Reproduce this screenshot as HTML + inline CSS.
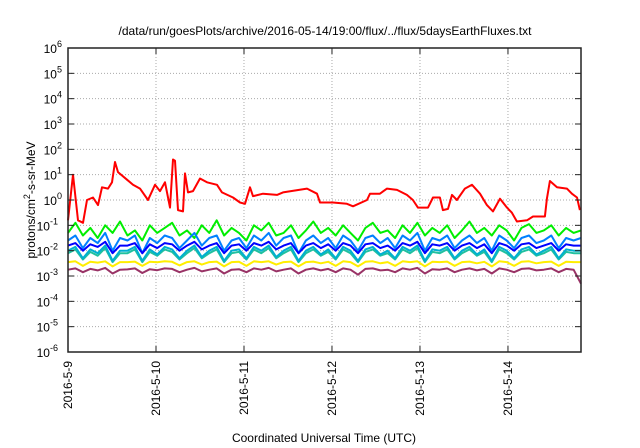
<!DOCTYPE html>
<html><head><meta charset="utf-8"><style>
body{margin:0;background:#fff;}
svg{display:block;font-family:"Liberation Sans",sans-serif;}
</style></head><body>
<svg id="chart" width="640" height="448" viewBox="0 0 640 448" xmlns="http://www.w3.org/2000/svg">
<text x="325" y="35" font-size="12" text-anchor="middle">/data/run/goesPlots/archive/2016-05-14/19:00/flux/../flux/5daysEarthFluxes.txt</text>
<text transform="translate(35,200) rotate(-90)" font-size="12" text-anchor="middle">protons/cm<tspan dy="-5" font-size="9">2</tspan><tspan dy="5">-s-sr-MeV</tspan></text>
<text x="324" y="442" font-size="12" text-anchor="middle">Coordinated Universal Time (UTC)</text>
<g id="grid"></g><g id="series"></g><g id="axes"></g>
</svg>
<script>
const dayLabels=["2016-5-9","2016-5-10","2016-5-11","2016-5-12","2016-5-13","2016-5-14"];
const decades=[-6,-5,-4,-3,-2,-1,0,1,2,3,4,5,6];
const redDays=[0,0.057,0.114,0.17,0.216,0.284,0.341,0.386,0.455,0.5,0.534,0.568,0.67,0.739,0.818,0.909,0.989,1.045,1.102,1.159,1.193,1.216,1.25,1.307,1.33,1.364,1.42,1.5,1.58,1.693,1.75,1.875,1.955,2.011,2.068,2.102,2.216,2.375,2.443,2.716,2.83,2.864,3.011,3.17,3.239,3.398,3.432,3.545,3.625,3.739,3.852,3.92,3.977,4.091,4.148,4.227,4.261,4.318,4.364,4.42,4.511,4.591,4.682,4.761,4.83,4.909,4.989,5.045,5.102,5.216,5.284,5.42,5.443,5.477,5.557,5.67,5.727,5.784,5.818];
const redLog10=[-0.8,1.0,-0.8,-0.9,0,0.1,-0.2,0.5,0.45,0.7,1.5,1.1,0.8,0.6,0.45,0,0.6,0.35,0.7,-0.3,1.6,1.55,-0.4,-0.45,1.05,0.3,0.35,0.85,0.7,0.6,0.3,0.1,-0.1,-0.15,0.5,0.15,0.25,0.2,0.3,0.45,0.25,-0.1,-0.1,-0.15,-0.25,0,0.25,0.25,0.45,0.4,0.2,0,-0.3,-0.3,0.1,0.1,-0.4,-0.35,0.2,0,0.45,0.6,0.25,-0.2,-0.45,0.05,-0.3,-0.5,-0.85,-0.8,-0.65,-0.65,0.05,0.75,0.5,0.45,0.25,0.1,-0.4];
const greenLog10=[-1.3,-0.9,-1.4,-1.1,-1.5,-1.0,-1.3,-0.85,-1.4,-1.2,-1.6,-1.0,-1.3,-1.1,-0.9,-1.4,-1.2,-1.5,-1.0,-1.3,-0.8,-1.4,-1.1,-1.3,-1.6,-1.0,-1.2,-0.9,-1.4,-1.3,-1.0,-1.5,-1.2,-0.85,-1.3,-1.1,-1.4,-1.0,-1.3,-1.6,-1.1,-0.9,-1.3,-1.2,-1.5,-1.0,-1.3,-0.9,-1.4,-1.1,-1.3,-1.0,-1.5,-1.2,-0.85,-1.3,-1.1,-1.4,-1.0,-1.2,-1.6,-1.1,-0.95,-1.3,-1.2,-1.0,-1.4,-1.1,-1.3,-1.2];
const lightBlueLog10=[-1.6,-1.4,-1.9,-1.5,-1.7,-1.3,-2.0,-1.5,-1.6,-1.4,-2.1,-1.5,-1.7,-1.4,-1.5,-1.9,-1.6,-1.3,-1.8,-1.5,-1.4,-2.0,-1.6,-1.5,-1.9,-1.4,-1.6,-1.3,-1.8,-1.5,-1.4,-2.1,-1.6,-1.4,-1.7,-1.5,-1.9,-1.4,-1.6,-2.0,-1.5,-1.4,-1.7,-1.5,-1.9,-1.4,-1.6,-1.3,-2.0,-1.5,-1.6,-1.4,-1.9,-1.6,-1.4,-1.7,-1.5,-2.0,-1.4,-1.6,-1.9,-1.5,-1.4,-1.7,-1.6,-1.4,-1.9,-1.5,-1.6,-1.5];
const blueLog10=[-1.8,-1.7,-2.0,-1.75,-1.85,-1.65,-2.1,-1.8,-1.8,-1.7,-2.1,-1.75,-1.9,-1.7,-1.75,-2.0,-1.8,-1.65,-1.95,-1.8,-1.7,-2.1,-1.8,-1.75,-2.0,-1.7,-1.8,-1.65,-1.95,-1.8,-1.7,-2.1,-1.8,-1.7,-1.9,-1.75,-2.0,-1.7,-1.8,-2.1,-1.75,-1.7,-1.9,-1.8,-2.0,-1.7,-1.8,-1.65,-2.1,-1.75,-1.8,-1.7,-2.0,-1.8,-1.7,-1.9,-1.75,-2.1,-1.7,-1.8,-2.0,-1.75,-1.7,-1.9,-1.8,-1.7,-2.0,-1.75,-1.8,-1.8];
const cyanLog10=[-2.0,-1.85,-2.3,-1.95,-2.1,-1.8,-2.4,-2.0,-2.0,-1.85,-2.4,-1.95,-2.15,-1.85,-1.95,-2.3,-2.0,-1.8,-2.25,-2.0,-1.85,-2.4,-2.0,-1.95,-2.3,-1.85,-2.0,-1.8,-2.25,-2.0,-1.85,-2.4,-2.0,-1.85,-2.15,-1.95,-2.3,-1.85,-2.0,-2.4,-1.95,-1.85,-2.15,-2.0,-2.3,-1.85,-2.0,-1.8,-2.4,-1.95,-2.0,-1.85,-2.3,-2.0,-1.85,-2.15,-1.95,-2.4,-1.85,-2.0,-2.3,-1.95,-1.85,-2.15,-2.0,-1.85,-2.3,-1.95,-2.0,-2.0];
const tealLog10=[-2.1,-1.95,-2.35,-2.05,-2.2,-1.9,-2.45,-2.1,-2.1,-1.95,-2.45,-2.05,-2.2,-1.95,-2.05,-2.35,-2.1,-1.9,-2.3,-2.1,-1.95,-2.45,-2.1,-2.05,-2.35,-1.95,-2.1,-1.9,-2.3,-2.1,-1.95,-2.45,-2.1,-1.95,-2.2,-2.05,-2.35,-1.95,-2.1,-2.45,-2.05,-1.95,-2.2,-2.1,-2.35,-1.95,-2.1,-1.9,-2.45,-2.05,-2.1,-1.95,-2.35,-2.1,-1.95,-2.2,-2.05,-2.45,-1.95,-2.1,-2.35,-2.05,-1.95,-2.2,-2.1,-1.95,-2.35,-2.05,-2.1,-2.1];
const yellowLog10=[-2.45,-2.42,-2.6,-2.44,-2.47,-2.42,-2.62,-2.45,-2.45,-2.43,-2.6,-2.44,-2.46,-2.42,-2.44,-2.58,-2.45,-2.42,-2.55,-2.45,-2.43,-2.62,-2.45,-2.44,-2.6,-2.42,-2.45,-2.42,-2.55,-2.45,-2.43,-2.62,-2.45,-2.43,-2.5,-2.44,-2.6,-2.42,-2.45,-2.62,-2.44,-2.42,-2.5,-2.45,-2.6,-2.42,-2.45,-2.42,-2.62,-2.44,-2.45,-2.43,-2.6,-2.45,-2.43,-2.5,-2.44,-2.62,-2.42,-2.45,-2.6,-2.44,-2.42,-2.5,-2.45,-2.43,-2.6,-2.44,-2.45,-2.45];
const purpleLog10=[-2.75,-2.7,-2.85,-2.72,-2.78,-2.68,-2.9,-2.75,-2.74,-2.7,-2.88,-2.73,-2.77,-2.7,-2.72,-2.85,-2.75,-2.68,-2.82,-2.75,-2.7,-2.9,-2.75,-2.73,-2.85,-2.7,-2.75,-2.68,-2.82,-2.75,-2.7,-2.9,-2.75,-2.7,-2.78,-2.72,-2.85,-2.7,-2.75,-2.95,-2.72,-2.7,-2.78,-2.75,-2.85,-2.7,-2.75,-2.68,-2.9,-2.73,-2.75,-2.7,-2.85,-2.75,-2.7,-2.78,-2.72,-2.9,-2.7,-2.75,-2.85,-2.72,-2.7,-2.78,-2.75,-2.7,-2.85,-2.72,-2.75,-3.3];
const spanDays=5.83;

const NS="http://www.w3.org/2000/svg";
const L=68,R=581,T=48,B=352;
const xS=d=>L+(d/spanDays)*(R-L);
const yL=p=>B-(p+6)/12*(B-T);
function mk(tag,attrs,parent){const e=document.createElementNS(NS,tag);for(const k in attrs)e.setAttribute(k,attrs[k]);parent.appendChild(e);return e;}
const grid=document.getElementById('grid'),axes=document.getElementById('axes'),ser=document.getElementById('series');
decades.forEach(p=>{
  const y=yL(p);
  if(p>-6&&p<6){const g=mk('line',{x1:L,x2:R,y1:y,y2:y,stroke:'#aaa','stroke-width':1,'stroke-dasharray':'1,2'},grid);
  
  }
  const t1=mk('line',{x1:L,x2:L+6,y1:y,y2:y,stroke:'#222'},axes);
  
  
  const t2=mk('line',{x1:R-6,x2:R,y1:y,y2:y,stroke:'#222'},axes);
  
  
  const tx=mk('text',{x:L-10,y:y+5,'font-size':12,'text-anchor':'end'},axes);
  
  
  tx.innerHTML='10<tspan dy="-6" font-size="9">'+p+'</tspan>';
  if(p>=0){tx.setAttribute('x',L-6);}
});
dayLabels.forEach((lab,i)=>{
  const x=xS(i);
  if(i>0){const g=mk('line',{x1:x,x2:x,y1:T,y2:B,stroke:'#aaa','stroke-width':1,'stroke-dasharray':'1,2'},grid);
  
  }
  const t1=mk('line',{x1:x,x2:x,y1:B,y2:B-6,stroke:'#222'},axes);
  
  
  const t2=mk('line',{x1:x,x2:x,y1:T,y2:T+6,stroke:'#222'},axes);
  
  
  const tx=mk('text',{transform:`translate(${x+4},${B+9}) rotate(-90)`,'font-size':12,'text-anchor':'end'},axes);
  
  
  tx.textContent=lab;
});
const fr=mk('rect',{x:L,y:T,width:R-L,height:B-T,fill:'none',stroke:'#222','stroke-width':1.5},axes);


function line(days,logs,color,name){
  const n=Math.min(days.length,logs.length);
  const pts=[];
  for(let i=0;i<n;i++)pts.push(xS(days[i]).toFixed(1)+','+yL(logs[i]).toFixed(1));
  const p=mk('polyline',{points:pts.join(' '),fill:'none',stroke:color,'stroke-width':2,'stroke-linejoin':'round'},ser);
  
  
}
function even(vals){return vals.map((v,i)=>i*spanDays/(vals.length-1));}
line(even(purpleLog10),purpleLog10,'#993366','series-purple');
line(even(yellowLog10),yellowLog10,'#ffee00','series-yellow');
line(even(tealLog10),tealLog10,'#20c0a0','series-teal');
line(even(cyanLog10),cyanLog10,'#00b0d0','series-cyan');
line(even(greenLog10),greenLog10,'#00ee00','series-green');
line(even(lightBlueLog10),lightBlueLog10,'#0080ff','series-light-blue');
line(even(blueLog10),blueLog10,'#0000ff','series-blue');
line(redDays,redLog10,'#ff0000','series-red');
</script>
</body></html>
